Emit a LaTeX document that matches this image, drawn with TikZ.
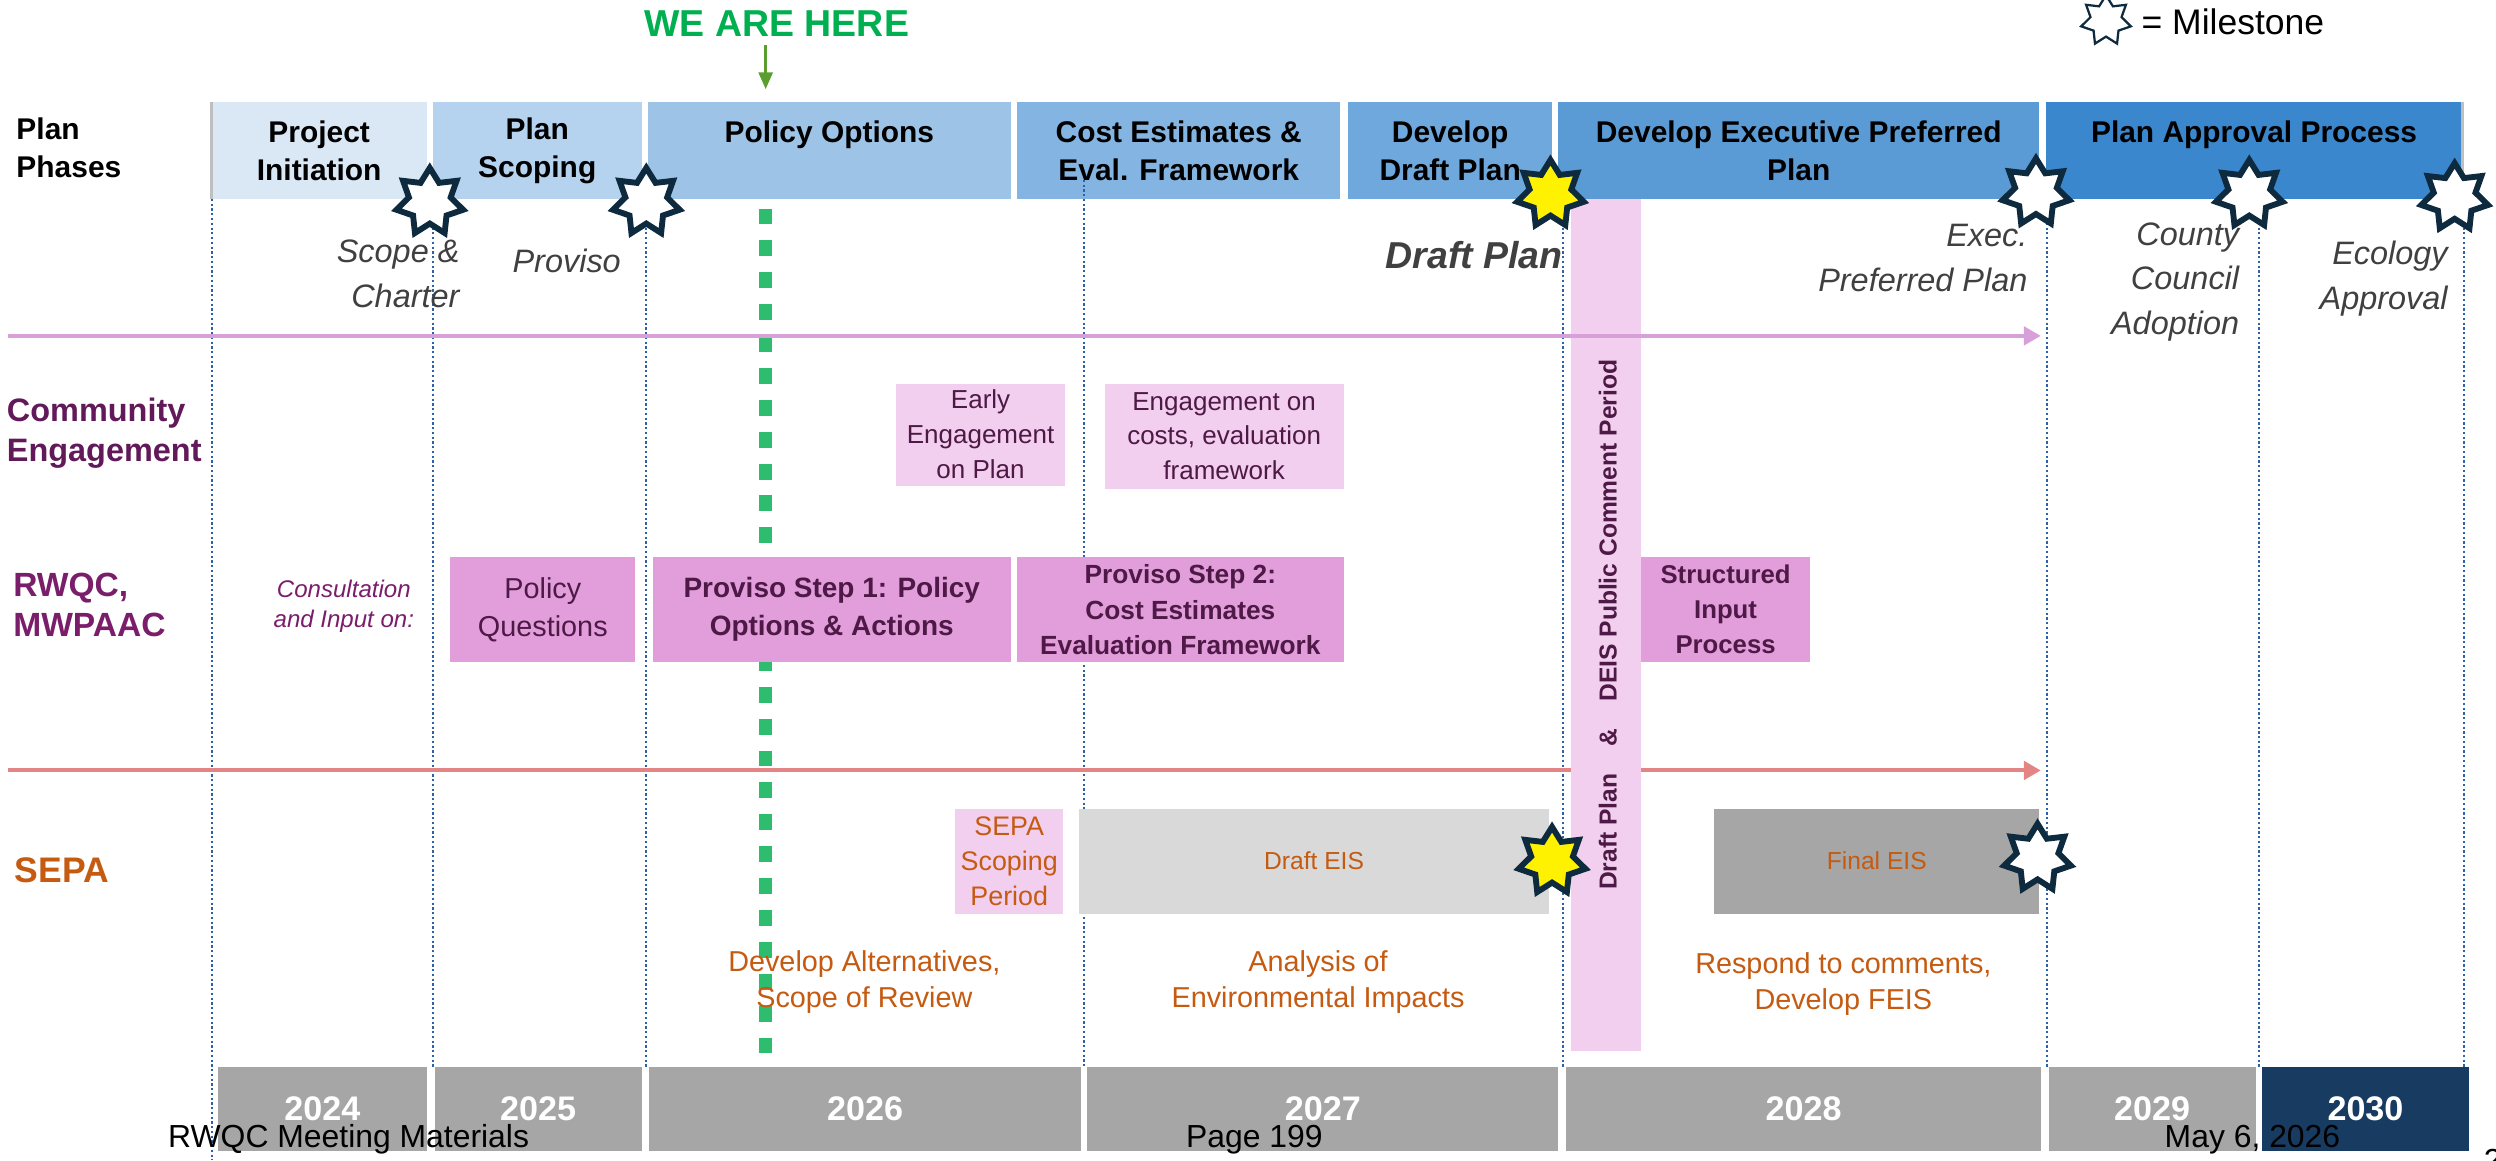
\documentclass[tikz,border=0pt]{standalone}
\usepackage{fontspec}
\setmainfont{Liberation Sans}
\usetikzlibrary{shapes.geometric,arrows.meta}

\definecolor{phaseA}{HTML}{DAE8F6}
\definecolor{phaseB}{HTML}{B5D2EE}
\definecolor{phaseC}{HTML}{9DC3E6}
\definecolor{phaseD}{HTML}{84B5E2}
\definecolor{phaseE}{HTML}{6FA8DC}
\definecolor{phaseF}{HTML}{5B9BD5}
\definecolor{phaseG}{HTML}{3A87CD}
\definecolor{pinklight}{HTML}{F2CFEE}
\definecolor{pinkmid}{HTML}{E29EDA}
\definecolor{plumtext}{HTML}{4E1946}
\definecolor{rowplum}{HTML}{62195A}
\definecolor{rowmagenta}{HTML}{7A1D6B}
\definecolor{sepaorange}{HTML}{C55A11}
\definecolor{notegray}{HTML}{404040}
\definecolor{eisgray}{HTML}{D9D9D9}
\definecolor{yeargray}{HTML}{A6A6A6}
\definecolor{yearnavy}{HTML}{173B61}
\definecolor{gridblue}{HTML}{2E62A6}
\definecolor{nowgreen}{HTML}{00B050}
\definecolor{dashgreen}{HTML}{2EBD6E}
\definecolor{pointergreen}{HTML}{5A9E2E}
\definecolor{starline}{HTML}{0E2A3E}
\definecolor{lilacline}{HTML}{D8A0D8}
\definecolor{salmonline}{HTML}{E48585}
\definecolor{edgegray}{HTML}{BFBFBF}

\newcommand\fsz[2]{\fontsize{#1}{#2}\selectfont}

\begin{document}
\begin{tikzpicture}[x=0.02cm,y=-0.02cm,
  sz/.style 2 args={minimum width=#1*0.02cm, minimum height=#2*0.02cm},
  blockbox/.style={rectangle, inner sep=0pt, outer sep=0pt, align=center},
  phasebox/.style={blockbox, font=\bfseries\fsz{10.7}{13.6}, text=black},
  softbox/.style={blockbox, fill=pinklight, text=plumtext, font=\fsz{9.3}{12.5}},
  inputbox/.style={blockbox, fill=pinkmid, text=plumtext},
  eisbox/.style={blockbox, text=sepaorange, font=\fsz{8.8}{11}},
  yearbox/.style={blockbox, fill=yeargray, text=white, font=\bfseries\fsz{12.2}{14}},
  milestone/.style={star, star points=7, star point ratio=1.6, minimum size=0.86cm,
    inner sep=0pt, draw=starline, line width=2.1pt, fill=white},
  goldstone/.style={milestone, fill=yellow},
  gridline/.style={draw=gridblue, line width=0.75pt, dash pattern=on 0.8pt off 0.9pt},
  notelabel/.style={font=\itshape\fsz{11.6}{15.9}, text=notegray, inner sep=0pt},
  rowlabel/.style={font=\bfseries\fsz{11.6}{14.2}, inner sep=0pt, align=left, anchor=west},
  sepanote/.style={font=\fsz{10.3}{12.8}, text=sepaorange, inner sep=0pt, align=center},
  footer/.style={font=\fsz{11.4}{13}, text=black, inner sep=0pt, anchor=base},
  timeline/.style={line width=1.4pt, -{Triangle[length=6pt,width=6.5pt]}}
]
\useasboundingbox (0,0) rectangle (1568,729);

% ---------- phase bar ----------
\node[phasebox, sz={135}{61}, fill=phaseA] (p1) at (200.5,94.5) {Project\\Initiation};
\node[phasebox, sz={131}{61}, fill=phaseB] (p2) at (337.5,94.5) {Plan\\Scoping};
\node[phasebox, sz={228}{61}, fill=phaseC] (p3) at (521,94.5) {Policy Options\\\mbox{}};
\node[phasebox, sz={203}{61}, fill=phaseD] (p4) at (740.5,94.5) {Cost Estimates \&\\Eval. Framework};
\node[phasebox, sz={128}{61}, fill=phaseE] (p5) at (911,94.5) {Develop\\Draft Plan};
\node[phasebox, sz={302}{61}, fill=phaseF] (p6) at (1130,94.5) {Develop Executive Preferred\\Plan};
\node[phasebox, sz={262}{61}, fill=phaseG] (p7) at (1416,94.5) {Plan Approval Process\\\mbox{}};
\draw[edgegray, line width=1pt] (p1.north west) -- (p1.south west);
\draw[edgegray, line width=1pt] (p7.north east) -- (p7.south east);

\node[font=\bfseries\fsz{10.7}{13.6}, align=left, anchor=west, inner sep=0pt] (phases) at (10,93) {Plan\\Phases};

% ---------- year bar ----------
\node[yearbox, sz={131}{53}] (y24) at (202.5,696.5) {2024};
\node[yearbox, sz={130}{53}] (y25) at (338,696.5) {2025};
\node[yearbox, sz={271}{53}] (y26) at (543.5,696.5) {2026};
\node[yearbox, sz={296}{53}] (y27) at (831,696.5) {2027};
\node[yearbox, sz={298}{53}] (y28) at (1133,696.5) {2028};
\node[yearbox, sz={130}{53}] (y29) at (1352,696.5) {2029};
\node[yearbox, sz={130}{53}, fill=yearnavy] (y30) at (1486,696.5) {2030};

% ---------- dotted year boundaries ----------
\coordinate (g0t) at (133,125);  \coordinate (g0b) at (133,729);
\coordinate (g1t) at (272,125);  \coordinate (g1b) at (272,670);
\coordinate (g2t) at (406,125);  \coordinate (g2b) at (406,670);
\coordinate (g3t) at (681,113);  \coordinate (g3b) at (681,670);
\coordinate (g4t) at (982,125);  \coordinate (g4b) at (982,670);
\coordinate (g5t) at (1286,125); \coordinate (g5b) at (1286,670);
\coordinate (g6t) at (1419,125); \coordinate (g6b) at (1419,670);
\coordinate (g7t) at (1548,125); \coordinate (g7b) at (1548,670);
\foreach \g in {0,...,7} {\draw[gridline] (g\g t) -- (g\g b);}

% ---------- "we are here" marker ----------
\coordinate (nowtop) at (481,131);
\coordinate (nowbot) at (481,662);
\draw[dashgreen, line width=4.6pt, dash pattern=on 5.7pt off 5.7pt] (nowtop) -- (nowbot);
\node[font=\bfseries\fsz{13.4}{15}, text=nowgreen, inner sep=0pt] (here) at (488,15) {WE ARE HERE};
\coordinate (hereTip) at (481,56);
\draw[pointergreen, line width=1pt, -{Triangle[length=6pt,width=5pt]}] (hereTip |- here.south) ++(0,5) -- (hereTip);

% ---------- SEPA timeline (behind the comment bar) ----------
\coordinate (sepaStart) at (5,484);
\coordinate (sepaEnd) at (1282,484);
\draw[timeline, salmonline] (sepaStart) -- (sepaEnd);

% ---------- public comment bar ----------
\node[blockbox, sz={44}{535}, fill=pinklight] (comment) at (1009,392.5) {};
\node[rotate=90, font=\bfseries\fsz{8.8}{11}, text=plumtext, inner sep=0pt] (commentlbl) at (1010,392.5)
  {Draft Plan\hspace{1.1em}\&\hspace{1.1em}DEIS Public Comment Period};

% ---------- community engagement ----------
\node[softbox, sz={106}{64}] (e1) at (616,273) {Early\\Engagement\\on Plan};
\node[softbox, sz={150}{66}] (e2) at (769,274) {Engagement on\\costs, evaluation\\framework};

% ---------- RWQC / MWPAAC ----------
\node[font=\itshape\fsz{8.6}{10.8}, text=rowmagenta, align=center, inner sep=0pt] (consult) at (216,381) {Consultation\\and Input on:};
\node[inputbox, sz={116}{66}, font=\fsz{10.3}{13.6}] (r1) at (341,383) {Policy\\Questions};
\node[inputbox, sz={225}{66}, font=\bfseries\fsz{10}{13.6}] (r2) at (522.5,383) {Proviso Step 1: Policy\\Options \& Actions};
\node[inputbox, sz={205}{66}, font=\bfseries\fsz{9.4}{12.8}] (r3) at (741.5,383) {Proviso Step 2:\\Cost Estimates\\Evaluation Framework};
\node[inputbox, sz={106}{66}, font=\bfseries\fsz{9.2}{12.5}] (r4) at (1084,383) {Structured\\Input\\Process};

% ---------- SEPA ----------
\node[blockbox, sz={68}{66}, fill=pinklight, text=sepaorange, font=\fsz{9.6}{12.5}] (scoping) at (634,541) {SEPA\\Scoping\\Period};
\node[eisbox, sz={295}{66}, fill=eisgray] (deis) at (825.5,541) {Draft EIS};
\node[eisbox, sz={204}{66}, fill=yeargray] (feis) at (1179,541) {Final EIS};
\node[sepanote] (a1) at (543,617) {Develop Alternatives,\\Scope of Review};
\node[sepanote] (a2) at (828,617) {Analysis of\\Environmental Impacts};
\node[sepanote] (a3) at (1158,618) {Respond to comments,\\Develop FEIS};

% ---------- plan timeline (over the comment bar) ----------
\coordinate (planStart) at (5,211);
\coordinate (planEnd) at (1282,211);
\draw[timeline, lilacline] (planStart) -- (planEnd);

% ---------- row labels ----------
\node[rowlabel, text=rowplum] (rowce) at (4,272) {Community\\Engagement};
\node[rowlabel, text=rowmagenta, font=\bfseries\fsz{12}{14.2}] (rowrw) at (8,380) {RWQC,\\MWPAAC};
\node[rowlabel, text=sepaorange, font=\bfseries\fsz{12.7}{14.5}] (rowsepa) at (9,547) {SEPA};

% ---------- milestones ----------
\node[milestone] (m1) at (270,127) {};
\node[milestone] (m2) at (406,127) {};
\node[goldstone] (m3) at (974,122) {};
\node[milestone] (m4) at (1279,121) {};
\node[milestone] (m5) at (1413,122) {};
\node[milestone] (m6) at (1542,124) {};
\node[goldstone] (m7) at (975,541) {};
\node[milestone] (m8) at (1280,539) {};

\node[notelabel, align=right, anchor=east] (n1) at (289,172) {Scope \&\\Charter};
\node[notelabel] (n2) at (356,164) {Proviso};
\node[notelabel, font=\bfseries\itshape\fsz{13.4}{15}] (n3) at (926,160) {Draft Plan};
\node[notelabel, align=right, anchor=east] (n4) at (1274,162) {Exec.\\Preferred Plan};
\node[notelabel, align=right, anchor=east] (n5) at (1407,177) {County\\Council\\Adoption};
\node[notelabel, align=right, anchor=east] (n6) at (1538,175) {Ecology\\Approval};

% ---------- legend ----------
\node[milestone, minimum size=0.64cm, line width=0.8pt] (legendstar) at (1323,13) {};
\node[font=\fsz{12.7}{14}, anchor=west, inner sep=0pt] (legendtxt) at (1345,14) {= Milestone};

% ---------- footer ----------
\node[footer] (f1) at (219,721) {RWQC Meeting Materials};
\node[footer] (f2) at (788,721) {Page 199};
\node[footer] (f3) at (1415,721) {May 6, 2026};
\node[footer, anchor=base west] (f4) at (1560,736) {2};
\end{tikzpicture}
\end{document}
